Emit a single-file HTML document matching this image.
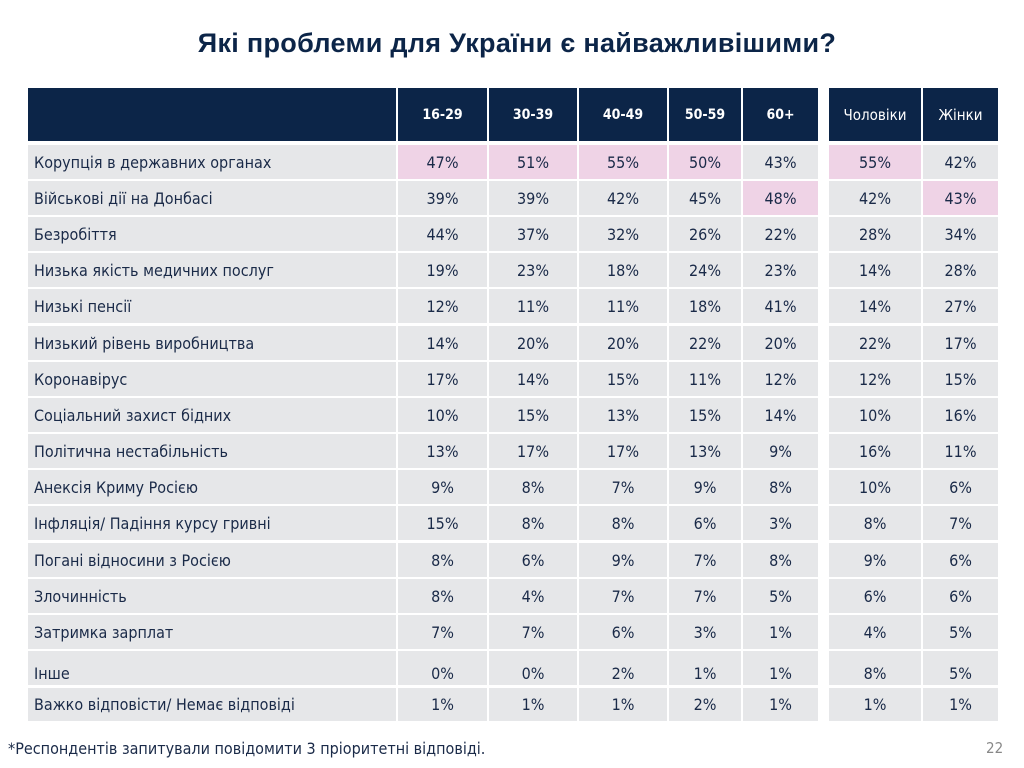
<!DOCTYPE html>
<html><head><meta charset="utf-8"><style>
body{margin:0;width:1024px;height:768px;background:#fff;position:relative;overflow:hidden;font-family:"DejaVu Sans Condensed","Liberation Sans",sans-serif;color:#1a2a48}
.t{position:absolute;left:0;width:1034px;top:28px;text-align:center;font:bold 27px "Liberation Sans",sans-serif;color:#0c2548;letter-spacing:0.3px}
.r{position:absolute;left:28px;height:34px;display:flex}
.r div{height:100%;background:#e6e7e9;margin-right:2px;display:flex;align-items:center;justify-content:center;font-size:16px}
.r div:first-child{justify-content:flex-start;padding-left:6px;box-sizing:border-box}
.r .g{margin-right:11px}
.r .p{background:#efd3e6}
.r.lo div{align-items:flex-end;padding-bottom:2px;box-sizing:border-box}
.h{top:88px;height:53px}
.h div{background:#0c2548;color:#fff;font-size:15px}
.h .b{font-weight:bold;font-size:14px}
.w0{width:368px}.w1{width:89px}.w2{width:88px}.w3{width:88px}.w4{width:72px}.w5{width:75px}.w6{width:92px}.w7{width:75px}
.f{position:absolute;left:8px;top:739px;font-size:16px}
.n{position:absolute;left:986px;top:739px;font-size:15px;color:#888}
</style></head><body>
<div class="t">Які проблеми для України є найважливішими?</div>
<div class="r h"><div class="w0"></div><div class="w1 b">16-29</div><div class="w2 b">30-39</div><div class="w3 b">40-49</div><div class="w4 b">50-59</div><div class="w5 b g">60+</div><div class="w6">Чоловіки</div><div class="w7">Жінки</div></div>
<div class="r" style="top:145px"><div class="w0">Корупція в державних органах</div><div class="w1 p">47%</div><div class="w2 p">51%</div><div class="w3 p">55%</div><div class="w4 p">50%</div><div class="w5 g">43%</div><div class="w6 p">55%</div><div class="w7">42%</div></div>
<div class="r" style="top:181px"><div class="w0">Військові дії на Донбасі</div><div class="w1">39%</div><div class="w2">39%</div><div class="w3">42%</div><div class="w4">45%</div><div class="w5 g p">48%</div><div class="w6">42%</div><div class="w7 p">43%</div></div>
<div class="r" style="top:217px"><div class="w0">Безробіття</div><div class="w1">44%</div><div class="w2">37%</div><div class="w3">32%</div><div class="w4">26%</div><div class="w5 g">22%</div><div class="w6">28%</div><div class="w7">34%</div></div>
<div class="r" style="top:253px"><div class="w0">Низька якість медичних послуг</div><div class="w1">19%</div><div class="w2">23%</div><div class="w3">18%</div><div class="w4">24%</div><div class="w5 g">23%</div><div class="w6">14%</div><div class="w7">28%</div></div>
<div class="r" style="top:289px"><div class="w0">Низькі пенсії</div><div class="w1">12%</div><div class="w2">11%</div><div class="w3">11%</div><div class="w4">18%</div><div class="w5 g">41%</div><div class="w6">14%</div><div class="w7">27%</div></div>
<div class="r" style="top:326px"><div class="w0">Низький рівень виробництва</div><div class="w1">14%</div><div class="w2">20%</div><div class="w3">20%</div><div class="w4">22%</div><div class="w5 g">20%</div><div class="w6">22%</div><div class="w7">17%</div></div>
<div class="r" style="top:362px"><div class="w0">Коронавірус</div><div class="w1">17%</div><div class="w2">14%</div><div class="w3">15%</div><div class="w4">11%</div><div class="w5 g">12%</div><div class="w6">12%</div><div class="w7">15%</div></div>
<div class="r" style="top:398px"><div class="w0">Соціальний захист бідних</div><div class="w1">10%</div><div class="w2">15%</div><div class="w3">13%</div><div class="w4">15%</div><div class="w5 g">14%</div><div class="w6">10%</div><div class="w7">16%</div></div>
<div class="r" style="top:434px"><div class="w0">Політична нестабільність</div><div class="w1">13%</div><div class="w2">17%</div><div class="w3">17%</div><div class="w4">13%</div><div class="w5 g">9%</div><div class="w6">16%</div><div class="w7">11%</div></div>
<div class="r" style="top:470px"><div class="w0">Анексія Криму Росією</div><div class="w1">9%</div><div class="w2">8%</div><div class="w3">7%</div><div class="w4">9%</div><div class="w5 g">8%</div><div class="w6">10%</div><div class="w7">6%</div></div>
<div class="r" style="top:506px"><div class="w0">Інфляція/ Падіння курсу гривні</div><div class="w1">15%</div><div class="w2">8%</div><div class="w3">8%</div><div class="w4">6%</div><div class="w5 g">3%</div><div class="w6">8%</div><div class="w7">7%</div></div>
<div class="r" style="top:543px"><div class="w0">Погані відносини з Росією</div><div class="w1">8%</div><div class="w2">6%</div><div class="w3">9%</div><div class="w4">7%</div><div class="w5 g">8%</div><div class="w6">9%</div><div class="w7">6%</div></div>
<div class="r" style="top:579px"><div class="w0">Злочинність</div><div class="w1">8%</div><div class="w2">4%</div><div class="w3">7%</div><div class="w4">7%</div><div class="w5 g">5%</div><div class="w6">6%</div><div class="w7">6%</div></div>
<div class="r" style="top:615px"><div class="w0">Затримка зарплат</div><div class="w1">7%</div><div class="w2">7%</div><div class="w3">6%</div><div class="w4">3%</div><div class="w5 g">1%</div><div class="w6">4%</div><div class="w7">5%</div></div>
<div class="r lo" style="top:651px"><div class="w0">Інше</div><div class="w1">0%</div><div class="w2">0%</div><div class="w3">2%</div><div class="w4">1%</div><div class="w5 g">1%</div><div class="w6">8%</div><div class="w7">5%</div></div>
<div class="r" style="top:688px;height:33px"><div class="w0">Важко відповісти/ Немає відповіді</div><div class="w1">1%</div><div class="w2">1%</div><div class="w3">1%</div><div class="w4">2%</div><div class="w5 g">1%</div><div class="w6">1%</div><div class="w7">1%</div></div>
<div class="f">*Респондентів запитували повідомити 3 пріоритетні відповіді.</div>
<div class="n">22</div>
</body></html>
